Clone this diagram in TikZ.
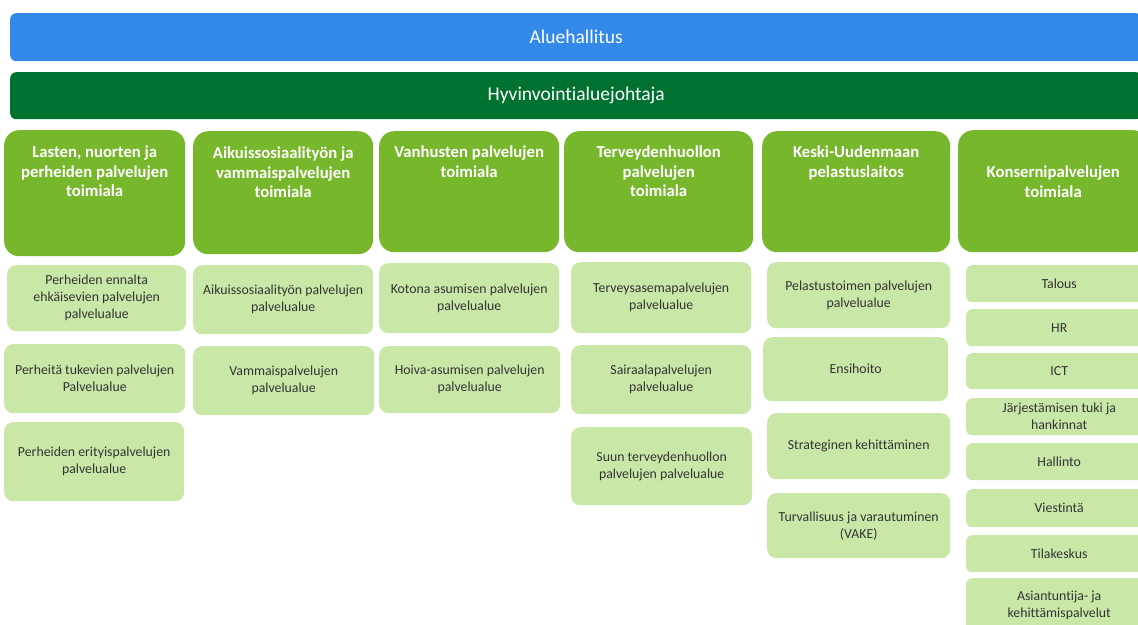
\documentclass[tikz,border=0pt]{standalone}
\usepackage{fontspec}
\setmainfont{Carlito}[Ligatures={NoCommon}]
\usetikzlibrary{positioning}
\definecolor{hallblue}{HTML}{3389EA}
\definecolor{johtgreen}{HTML}{007230}
\definecolor{toimgreen}{HTML}{77B72C}
\definecolor{aluegreen}{HTML}{C9E8A8}
\definecolor{aluetext}{HTML}{333333}

\tikzset{
  bar/.style={rounded corners=6pt, anchor=north west, inner sep=0pt, text=white,
    font=\fontsize{19.5}{23}\selectfont, minimum width=1132pt, minimum height=48pt},
  toim/.style={fill=toimgreen, rounded corners=15pt, anchor=north west, inner sep=0pt},
  toimtext/.style={text=white, font=\bfseries\fontsize{16.7}{19.3}\selectfont, align=center,
    anchor=north, inner sep=0pt},
  alue/.style={fill=aluegreen, rounded corners=9pt, anchor=north west, inner sep=0pt,
    text=aluetext, font=\fontsize{13.8}{17}\selectfont, align=center},
}

\begin{document}
\begin{tikzpicture}[x=1pt,y=-1pt]
  \useasboundingbox (0,0) rectangle (1138,624);
  \clip (0,0) rectangle (1138,624);

  % top of the organisation
  \node[bar, fill=hallblue] (hall) at (10,13) {Aluehallitus};
  \node[bar, fill=johtgreen, minimum height=47pt] (joht) at (10,72) {Hyvinvointialuejohtaja};

  % toimialat
  \node[toim, minimum width=181pt, minimum height=126pt] (t1) at (4,130) {};
  \node[toim, minimum width=180pt, minimum height=123pt] (t2) at (193,131) {};
  \node[toim, minimum width=180pt, minimum height=121pt] (t3) at (379,131) {};
  \node[toim, minimum width=189pt, minimum height=121pt] (t4) at (564,131) {};
  \node[toim, minimum width=188pt, minimum height=121pt] (t5) at (762,131) {};
  \node[toim, minimum width=190pt, minimum height=122pt] (t6) at (958,130) {};

  \node[toimtext] (t1txt) at ([yshift=-16pt]t1.north) {Lasten, nuorten ja\\perheiden palvelujen\\toimiala};
  \node[toimtext] (t2txt) at ([yshift=-16pt]t2.north) {Aikuissosiaalityön ja\\vammaispalvelujen\\toimiala};
  \node[toimtext] (t3txt) at ([yshift=-15pt]t3.north) {Vanhusten palvelujen\\toimiala};
  \node[toimtext] (t4txt) at ([yshift=-15pt]t4.north) {Terveydenhuollon\\palvelujen\\toimiala};
  \node[toimtext] (t5txt) at ([yshift=-15pt]t5.north) {Keski-Uudenmaan\\pelastuslaitos};
  \node[toimtext] (t6txt) at ([yshift=-36pt]t6.north) {Konsernipalvelujen\\toimiala};

  % palvelualueet
  \node[alue, minimum width=179pt, minimum height=66pt] (a11) at (7,265) {Perheiden ennalta\\ehkäisevien palvelujen\\palvelualue};
  \node[alue, minimum width=181pt, minimum height=69pt] (a12) at (4,344) {Perheitä tukevien palvelujen\\Palvelualue};
  \node[alue, minimum width=180pt, minimum height=79pt] (a13) at (4,422) {Perheiden erityispalvelujen\\palvelualue};

  \node[alue, minimum width=180pt, minimum height=69pt] (a21) at (193,265) {Aikuissosiaalityön palvelujen\\palvelualue};
  \node[alue, minimum width=181pt, minimum height=69pt] (a22) at (193,346) {Vammaispalvelujen\\palvelualue};

  \node[alue, minimum width=180pt, minimum height=70pt] (a31) at (379,263) {Kotona asumisen palvelujen\\palvelualue};
  \node[alue, minimum width=181pt, minimum height=67pt] (a32) at (379,346) {Hoiva-asumisen palvelujen\\palvelualue};

  \node[alue, minimum width=180pt, minimum height=71pt] (a41) at (571,262) {Terveysasemapalvelujen\\palvelualue};
  \node[alue, minimum width=180pt, minimum height=69pt] (a42) at (571,345) {Sairaalapalvelujen\\palvelualue};
  \node[alue, minimum width=181pt, minimum height=78pt] (a43) at (571,427) {Suun terveydenhuollon\\palvelujen palvelualue};

  \node[alue, minimum width=183pt, minimum height=66pt] (a51) at (767,262) {Pelastustoimen palvelujen\\palvelualue};
  \node[alue, minimum width=185pt, minimum height=64pt] (a52) at (763,337) {Ensihoito};
  \node[alue, minimum width=183pt, minimum height=66pt] (a53) at (767,413) {Strateginen kehittäminen};
  \node[alue, minimum width=183pt, minimum height=65pt] (a54) at (767,493) {Turvallisuus ja varautuminen\\(VAKE)};

  \node[alue, rounded corners=6pt, minimum width=186pt, minimum height=37pt] (a61) at (966,265) {Talous};
  \node[alue, rounded corners=6pt, minimum width=186pt, minimum height=37pt] (a62) at (966,309) {HR};
  \node[alue, rounded corners=6pt, minimum width=186pt, minimum height=36pt] (a63) at (966,353) {ICT};
  \node[alue, rounded corners=6pt, minimum width=186pt, minimum height=37pt] (a64) at (966,398) {Järjestämisen tuki ja\\hankinnat};
  \node[alue, rounded corners=6pt, minimum width=186pt, minimum height=37pt] (a65) at (966,443) {Hallinto};
  \node[alue, rounded corners=6pt, minimum width=186pt, minimum height=38pt] (a66) at (966,489) {Viestintä};
  \node[alue, rounded corners=6pt, minimum width=186pt, minimum height=37pt] (a67) at (966,535) {Tilakeskus};
  \node[alue, rounded corners=6pt, minimum width=186pt, minimum height=54pt] (a68) at (966,578) {Asiantuntija- ja\\kehittämispalvelut};
\end{tikzpicture}
\end{document}
